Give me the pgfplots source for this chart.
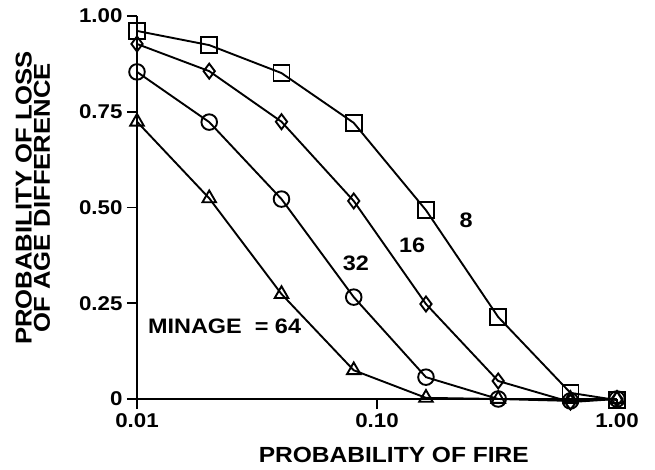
\documentclass[border=0pt]{standalone}
\usepackage{fontspec}
\setmainfont{Liberation Sans}[FakeStretch=1.12]
\usepackage{pgfplots}
\pgfplotsset{compat=1.18}
\begin{document}
\begin{tikzpicture}
\useasboundingbox (-137bp,-71bp) rectangle (518bp,399bp);
\begin{axis}[
  at={(0,0)}, anchor=south west,
  scale only axis, width=480bp, height=383bp,
  xmode=log, xmin=0.01, xmax=1, ymin=0, ymax=1,
  axis lines=left, axis line style={-, line width=1.9pt},
  clip=false,
  xtick={0.01,0.1,1}, xticklabels={0.01,0.10,1.00},
  ytick={0,0.25,0.5,0.75,1}, yticklabels={0,0.25,0.50,0.75,1.00},
  xminorticks=false, yminorticks=false,
  tick align=outside, major tick length=10bp,
  tick style={black, line width=1.9pt},
  ticklabel style={font=\fontsize{20}{20}\selectfont\bfseries},
  xticklabel style={yshift=-1bp},
  yticklabel style={xshift=-1bp},
  xlabel={PROBABILITY OF FIRE},
  xlabel style={at={(axis description cs:0.535,-0.167)}, anchor=base,
    font=\fontsize{22}{22}\selectfont\bfseries},
  ylabel={PROBABILITY OF LOSS\\OF AGE DIFFERENCE},
  ylabel style={at={(axis description cs:-0.217,0.525)}, anchor=center, rotate=0,
    align=center, font=\fontsize{23}{18.5}\selectfont\bfseries},
]
% MINAGE = 64 (triangles)
\addplot[sharp plot, black, line width=1.9pt, mark=triangle, mark size=7.8bp,
  mark options={solid, fill=white, draw=black, line width=1.9pt}] coordinates {
  (0.01,0.724) (0.02,0.524) (0.04,0.274) (0.08,0.075) (0.16,0.003)
  (0.32,0) (0.64,0) (1.0,0)};
% 32 (circles)
\addplot[sharp plot, black, line width=1.9pt, mark=o, mark size=7.8bp,
  mark options={solid, fill=white, draw=black, line width=1.9pt}] coordinates {
  (0.01,0.854) (0.02,0.723) (0.04,0.522) (0.08,0.266) (0.16,0.057)
  (0.32,0.0) (0.64,-0.005) (1.0,0)};
% 16 (diamonds)
\addplot[sharp plot, black, line width=1.9pt, mark=diamond, mark size=7.5bp,
  mark options={solid, fill=white, draw=black, line width=1.9pt}] coordinates {
  (0.01,0.927) (0.02,0.856) (0.04,0.724) (0.08,0.517) (0.16,0.248)
  (0.32,0.047) (0.64,-0.008) (1.0,0)};
% 8 (squares)
\addplot[sharp plot, black, line width=1.9pt, mark=square, mark size=8bp,
  mark options={solid, fill=white, draw=black, line width=1.9pt}] coordinates {
  (0.01,0.961) (0.02,0.924) (0.04,0.851) (0.08,0.721) (0.16,0.493)
  (0.32,0.214) (0.64,0.016) (1.0,-0.003)};
\node[font=\fontsize{21}{21}\selectfont\bfseries] at (axis cs:0.235,0.467) {8};
\node[font=\fontsize{21}{21}\selectfont\bfseries] at (axis cs:0.14,0.402) {16};
\node[font=\fontsize{21}{21}\selectfont\bfseries] at (axis cs:0.0817,0.355) {32};
\node[font=\fontsize{21}{21}\selectfont\bfseries, anchor=west, inner sep=0pt] at (axis cs:0.0111,0.19) {MINAGE\ \ = 64};
\end{axis}
\end{tikzpicture}
\end{document}
